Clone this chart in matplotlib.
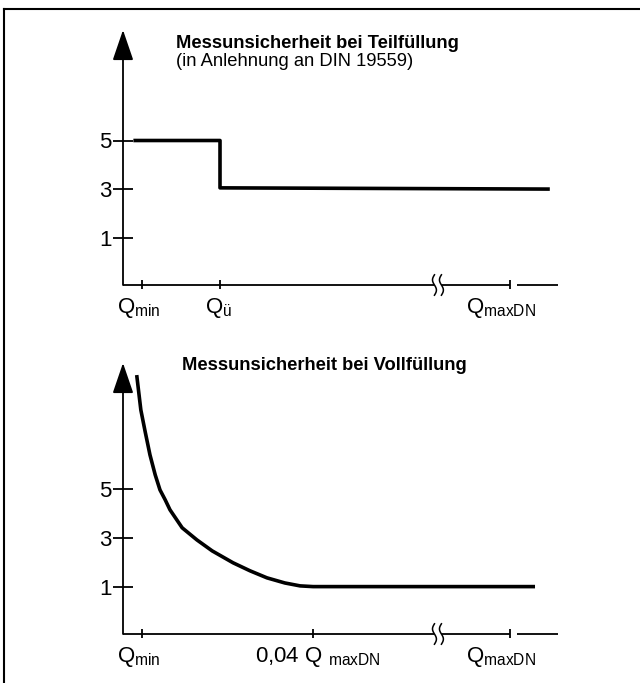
import matplotlib
matplotlib.use("Agg")
import matplotlib.pyplot as plt
import numpy as np

plt.rcParams['font.family'] = ['Liberation Sans', 'DejaVu Sans']
plt.rcParams['mathtext.fontset'] = 'custom'
plt.rcParams['mathtext.rm'] = 'Liberation Sans'
plt.rcParams['mathtext.it'] = 'Liberation Sans'

# schematic x positions (0..100 along the axis)
x_ticks_top = [4.4, 22.3, 89.0]
x_labels_top = [r'Q$_{\mathrm{min}}$', r'Q$_{\mathrm{ü}}$', r'Q$_{\mathrm{maxDN}}$']
x_ticks_bot = [4.4, 43.7, 89.0]
x_labels_bot = [r'Q$_{\mathrm{min}}$', r'0,04 Q $_{\mathrm{maxDN}}$', r'Q$_{\mathrm{maxDN}}$']
y_ticks = [1, 3, 5]

# partial filling: step from 5 to 3 at Qü
x_teil = [2.8, 22.3, 22.3, 97.7]
y_teil = [5, 5, 3.05, 3.0]

# full filling: falling curve
x_voll = [3.2, 4.1, 5.1, 6.2, 7.4, 8.5, 9.7, 10.8, 13.6, 17.0, 20.5, 25.3,
          29.2, 33.1, 37.2, 40.7, 43.7, 47.6, 94.3]
y_voll = [9.63, 8.27, 7.37, 6.42, 5.6, 4.98, 4.57, 4.16, 3.42, 2.92, 2.47, 1.98,
          1.65, 1.36, 1.15, 1.03, 1.0, 1.0, 1.0]

title_top = 'Messunsicherheit bei Teilfüllung'
subtitle_top = '(in Anlehnung an DIN 19559)'
title_bot = 'Messunsicherheit bei Vollfüllung'

fig = plt.figure(figsize=(6.4, 6.83), dpi=100)

# outer frame (only top and left edge visible)
fig.add_artist(plt.Line2D([4/640, 1], [1 - 9/683, 1 - 9/683], color='black', lw=1.5))
fig.add_artist(plt.Line2D([4/640, 4/640], [0, 1 - 9/683], color='black', lw=1.5))


def draw_panel(ax, ymin, ytop, xt, xl, xs, ys):
    ax.set_xlim(0, 100)
    ax.set_ylim(ymin, ytop)
    for s in ax.spines.values():
        s.set_visible(False)
    ax.set_xticks([])
    ax.set_yticks(y_ticks)
    ax.set_yticklabels([str(v) for v in y_ticks], fontsize=16)
    ax.tick_params(axis='y', direction='inout', length=14, width=1.3, pad=1)

    # y axis with arrow
    ax.annotate('', xy=(0, ytop), xytext=(0, ymin), annotation_clip=False,
                arrowprops=dict(arrowstyle='-|>,head_length=19,head_width=6.5',
                                mutation_scale=1, lw=1.3, color='black',
                                shrinkA=0, shrinkB=0))

    # x axis in pieces with a break
    kw = dict(color='black', lw=1.3, clip_on=False, solid_capstyle='butt')
    ax.plot([0, 71.6], [ymin, ymin], **kw)
    ax.plot([73.2, 89.0], [ymin, ymin], **kw)
    ax.plot([90.6, 100], [ymin, ymin], **kw)
    t = np.linspace(0, 1, 40)
    for x0 in [71.6, 73.2]:
        ax.plot(x0 + 0.45 * np.sin(2 * np.pi * t), ymin - 0.42 + 0.84 * t,
                color='black', lw=1.1, clip_on=False)

    # x ticks and labels
    shifts = [-0.8, 1.2, -2.0]
    for xv, lab, sh in zip(xt, xl, shifts):
        ax.plot([xv, xv], [ymin - 0.17, ymin + 0.2], **kw)
        if lab.startswith('Q$_{\\mathrm{ü'):
            sh = -0.4
        ax.text(xv + sh, ymin - 0.45, lab, ha='center', va='top', fontsize=16)

    ax.plot(xs, ys, color='black', lw=2.6, solid_joinstyle='round', clip_on=False)


ax1 = fig.add_axes([123/640, 1 - 285/683, 435/640, 255/683])
draw_panel(ax1, -0.95, 9.55, x_ticks_top, x_labels_top, x_teil, y_teil)
ax1.text(12.2, 8.98, title_top, fontsize=13.2, fontweight='bold', va='center')
ax1.text(12.2, 8.24, subtitle_top, fontsize=13.2, va='center')

ax2 = fig.add_axes([123/640, 1 - 634/683, 435/640, 271/683])
draw_panel(ax2, -0.95, 10.2, x_ticks_bot, x_labels_bot, x_voll, y_voll)
ax2.text(13.6, 10.1, title_bot, fontsize=13.2, fontweight='bold', va='center')

fig.savefig('out.png', dpi=100)
